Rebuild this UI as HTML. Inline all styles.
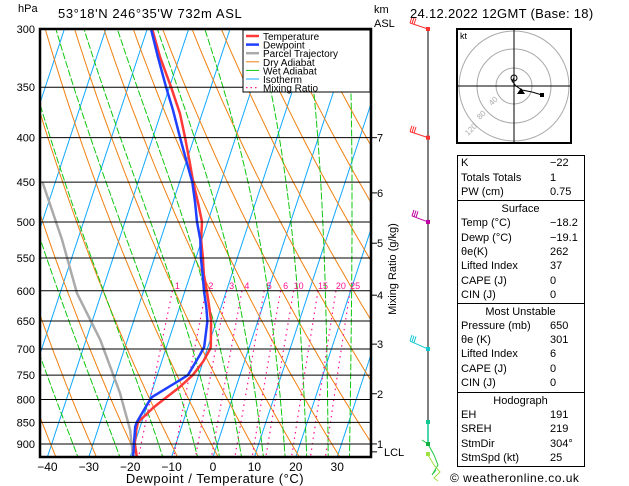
<!DOCTYPE html>
<html><head><meta charset="utf-8"><style>
body{margin:0;background:#fff;}
svg{display:block;font-family:"Liberation Sans",sans-serif;}
</style></head><body>
<svg id="c" width="629" height="486" viewBox="0 0 629 486" xmlns="http://www.w3.org/2000/svg">
<defs><clipPath id="clip"><rect x="40" y="29" width="331" height="428"/></clipPath></defs>
<g id="bg" clip-path="url(#clip)"></g>
<g id="iso"></g>
<g id="prof" clip-path="url(#clip)"></g>
<g id="axes"></g>
</svg>
<script>
// ---- data ----
const tempP = [300,323,350,375,400,428,450,475,500,524,550,574,602,626,650,696,700,724,750,774,801,818,850,867,898,932];
const tempT = [-48.8,-44.7,-39.6,-35.4,-32.2,-29.0,-26.7,-23.9,-21.4,-20.2,-18.3,-16.8,-14.6,-12.9,-11.3,-9.3,-9.3,-10.0,-11.4,-13.6,-16.6,-18.4,-20.9,-20.7,-20.0,-18.4];
const dewP = [300,323,350,372,400,428,450,475,500,524,550,574,602,626,650,696,711,750,760,795,808,850,860,898,932];
const dewT = [-49.1,-45.2,-40.8,-37.3,-33.4,-29.7,-26.9,-24.6,-22.6,-20.4,-18.8,-17.1,-15.3,-13.6,-12.2,-10.9,-11.3,-12.6,-14.1,-19.5,-20.0,-21.2,-21.2,-20.2,-19.3];
const parcelP = [450,524,604,683,786,867,932];
const parcelT = [-63.1,-53.8,-45.9,-36.6,-27.6,-22.2,-19.3];
const pressureTicks = [300,350,400,450,500,550,600,650,700,750,800,850,900];
const tempTicks = [-40,-30,-20,-10,0,10,20,30];
const kmLabels = ["7","6","5","4","3","2","1","LCL"];
const kmP = [400,463,529,607,691,788,900,919];
const mixVals = [1,2,3,4,6,8,10,15,20,25];
const mixLabels = ["1","2","3","4","5","6","10","15","20","25"];

const NS="http://www.w3.org/2000/svg";
function yP(p){return 29+377.7*Math.log(p/300);}
function xT(T,p){return 213+4.14*T+0.33*(457-yP(p));}
function mk(tag,attrs,parent){const e=document.createElementNS(NS,tag);for(const k in attrs)e.setAttribute(k,attrs[k]);parent.appendChild(e);return e;}
function path(pts){return pts.map((q,i)=>(i?'L':'M')+q[0].toFixed(1)+' '+q[1].toFixed(1)).join(' ');}
const bg=document.getElementById('bg'),prof=document.getElementById('prof'),axes=document.getElementById('axes');

// isotherms
for(let T=-130;T<=50;T+=10){
  const l=mk('line',{x1:xT(T,935),y1:yP(935),x2:xT(T,300),y2:yP(300),stroke:'#10a8ff','stroke-width':1},bg);
  
  
}
// dry adiabats
for(let th=200;th<=480;th+=10){
  const pts=[];for(let p=300;p<=940;p+=10)pts.push([xT(th*Math.pow(p/1000,0.2857)-273.15,p),yP(p)]);
  const e=mk('path',{d:path(pts),fill:'none',stroke:'#f08010','stroke-width':1},bg);
  
  
}
// wet adiabats
function es(Tc){return 6.112*Math.exp(17.67*Tc/(Tc+243.5));}
[-28,-18,-8,0,5,10,15,20,25,30,35,40].forEach(tw=>{
  let T=tw+273.15,p=1000;const pts=[];
  while(p>=300){
    if(p<=940)pts.push([xT(T-273.15,p),yP(p)]);
    const e=es(T-273.15),rs=0.622*e/(p-e),Lv=2.5e6,Rd=287,Cp=1004;
    const dTdp=(1/p)*(Rd*T+Lv*rs)/(Cp+Lv*Lv*rs*0.622/(Rd*T*T));
    T-=dTdp*5;p-=5;
  }
  const el=mk('path',{d:path(pts),fill:'none',stroke:'#10c810','stroke-width':1,'stroke-dasharray':'7,2'},bg);
  
  
});
// mixing ratio
function tdW(w,p){const e=w*p/(622+w),l=Math.log(e/6.112);return 243.5*l/(17.67-l);}
mixVals.forEach((w,i)=>{
  const pts=[];for(let p=600;p<=940;p+=10)pts.push([xT(tdW(w,p),p),yP(p)]);
  const el=mk('path',{d:path(pts),fill:'none',stroke:'#ff1090','stroke-width':1.2,'stroke-dasharray':'1.5,4'},bg);
  
  
  const t=mk('text',{x:xT(tdW(w,600),600)+5,y:289,'font-size':9,fill:'#ff1090','text-anchor':'middle'},axes);
  t.textContent=mixLabels[i];
  
  
});
// isobars
pressureTicks.forEach(p=>{
  const y=yP(p);
  const l=mk('line',{x1:40,x2:371,y1:y,y2:y,stroke:'#000','stroke-width':1},axes);
  
  
  const t=mk('text',{x:35,y:y+4,'font-size':11,'text-anchor':'end',fill:'#000'},axes);
  t.textContent=p;
  
  
});
// profiles
function line(P,T,color,w,name){
  const pts=P.map((p,i)=>[xT(T[i],p),yP(p)]);
  const e=mk('path',{d:path(pts),fill:'none',stroke:color,'stroke-width':w,'stroke-linejoin':'round'},prof);
  
  
}
line(parcelP,parcelT,'#aaaaaa',2.5,'parcel-trajectory');
line(tempP,tempT,'#ff3838',2.5,'temperature-line');
line(dewP,dewT,'#2040ff',2.5,'dewpoint-line');

// frame
const fr=mk('rect',{x:40,y:29,width:331,height:428,fill:'none',stroke:'#000','stroke-width':2.5},axes);


tempTicks.forEach(T=>{
  const x=213+4.14*T;
  const t=mk('text',{x:x,y:471,'font-size':12,'text-anchor':'middle',fill:'#000'},axes);
  t.textContent=T<0?'\u2212'+(-T):T;
  
  
});
kmLabels.forEach((k,i)=>{
  const y=yP(kmP[i]);
  mk('line',{x1:371,x2:377,y1:y,y2:y,stroke:'#000','stroke-width':1},axes);
  const t=mk('text',{x:i==7?384:377,y:y+4,'font-size':11,fill:'#000'},axes);
  t.textContent=k;
  
  
});

// legend
const leg=mk('g',{},axes);


mk('rect',{x:243,y:30,width:127,height:62,fill:'#fff',stroke:'#000','stroke-width':1},leg);
[['Temperature','#ff3838',2.5,''],['Dewpoint','#2040ff',2.5,''],['Parcel Trajectory','#aaaaaa',2.5,''],['Dry Adiabat','#f08010',1,''],['Wet Adiabat','#10c810',1,''],['Isotherm','#10a8ff',1,''],['Mixing Ratio','#ff1090',1.2,'1.5,3']].forEach((r,i)=>{
  const y=36+i*8.6;
  mk('line',{x1:246,x2:259,y1:y,y2:y,stroke:r[1],'stroke-width':r[2],'stroke-dasharray':r[3]||'none'},leg);
  const t=mk('text',{x:263,y:y+4,'font-size':10,fill:'#000'},leg);
  t.textContent=r[0];
  
  
});

// wind barbs column
mk('line',{x1:428,x2:428,y1:29,y2:445,stroke:'#000','stroke-width':1},axes);
const barbs=[[300,'#ff3030',-18,-6],[400,'#ff3030',-18,-6],[500,'#c000a0',-16,-6],[700,'#10c8d0',-18,-8]];
barbs.forEach(b=>{
  const y=yP(b[0]);
  const g=mk('g',{},axes);
  
  
  mk('line',{x1:428,y1:y,x2:428+b[2],y2:y+b[3],stroke:b[1],'stroke-width':1},g);
  for(let k=0;k<3;k++)mk('line',{x1:428+b[2]+k*2,y1:y+b[3]+k*0.7,x2:428+b[2]+k*2+2,y2:y+b[3]+k*0.7-6,stroke:b[1],'stroke-width':1},g);
  mk('rect',{x:426,y:y-2,width:4,height:4,fill:b[1]},g);
});
mk('line',{x1:428,y1:422,x2:428,y2:444,stroke:'#10c890','stroke-width':1.5},axes);
mk('polyline',{points:'422,440 428,444 434,455 438,465 432,475 436,470',fill:'none',stroke:'#20c840','stroke-width':1},axes);
mk('polyline',{points:'428,455 434,465 440,472 434,478 438,481',fill:'none',stroke:'#a0e040','stroke-width':1},axes);
mk('rect',{x:426,y:420,width:4,height:4,fill:'#10c890'},axes);
mk('rect',{x:426,y:442,width:4,height:4,fill:'#10b040'},axes);
mk('rect',{x:426,y:452,width:4,height:4,fill:'#a0e040'},axes);
</script>
<svg width="0" height="0"></svg>
<div style="position:absolute;left:0;top:0;width:629px;height:486px;pointer-events:none;font-family:'Liberation Sans',sans-serif;color:#000;">
  <div style="position:absolute;left:18px;top:3px;font-size:11px;">hPa</div>
  <div style="position:absolute;left:58px;top:6px;font-size:13px;letter-spacing:0.6px;">53°18'N  246°35'W  732m  ASL</div>
  <div style="position:absolute;left:374px;top:3px;font-size:11px;line-height:14px;">km<br>ASL</div>
  <div style="position:absolute;left:410px;top:6px;font-size:13px;letter-spacing:0.3px;">24.12.2022  12GMT  (Base: 18)</div>
  <div style="position:absolute;left:333px;top:263px;width:120px;text-align:center;font-size:11px;transform:rotate(-90deg);">Mixing Ratio (g/kg)</div>
  <div style="position:absolute;left:100px;top:471px;width:230px;text-align:center;font-size:13px;letter-spacing:0.5px;">Dewpoint / Temperature (°C)</div>
  <div style="position:absolute;left:450px;top:471px;font-size:12px;letter-spacing:0.5px;">© weatheronline.co.uk</div>
</div>
<svg style="position:absolute;left:456px;top:28px;" width="116" height="116">
  <rect x="1" y="1" width="114" height="114" fill="#fff" stroke="#000" stroke-width="2"/>
  <circle cx="58" cy="58" r="18" fill="none" stroke="#aaa"/>
  <circle cx="58" cy="58" r="37" fill="none" stroke="#aaa"/>
  <circle cx="58" cy="58" r="55" fill="none" stroke="#aaa"/>
  <line x1="2" y1="58" x2="114" y2="58" stroke="#000"/>
  <line x1="58" y1="2" x2="58" y2="114" stroke="#000"/>
  <text x="4" y="11" font-size="9" font-family="Liberation Sans">kt</text>
  <text x="36" y="78" font-size="8" fill="#aaa" transform="rotate(-45 36 78)">40</text>
  <text x="24" y="92" font-size="8" fill="#aaa" transform="rotate(-45 24 92)">80</text>
  <text x="12" y="108" font-size="8" fill="#aaa" transform="rotate(-45 12 108)">120</text>
  <polyline points="58,50 56,53 60,58 66,62 76,64 86,67" fill="none" stroke="#000"/>
  <circle cx="58" cy="50" r="3" fill="none" stroke="#000"/>
  <polygon points="65,60 61,66 69,66" fill="#000"/>
  <rect x="84" y="65" width="4" height="4" fill="#000"/>
</svg>
<div style="position:absolute;left:457px;top:155px;width:126px;height:310px;border:1px solid #000;font-family:'Liberation Sans',sans-serif;font-size:11px;">
  <div style="position:absolute;left:0;top:44px;width:126px;border-top:1px solid #000;"></div>
  <div style="position:absolute;left:0;top:147px;width:126px;border-top:1px solid #000;"></div>
  <div style="position:absolute;left:0;top:236px;width:126px;border-top:1px solid #000;"></div>
</div>
<div id="rows" style="position:absolute;left:0;top:0;font-family:'Liberation Sans',sans-serif;font-size:11px;"></div>
<script>
const rowsData=[["K","−22",164],["Totals Totals","1",179],["PW (cm)","0.75",193],["#Surface","",210],["Temp (°C)","−18.2",224],["Dewp (°C)","−19.1",239],["θe(K)","262",253],["Lifted Index","37",267],["CAPE (J)","0",282],["CIN (J)","0",296],["#Most Unstable","",313],["Pressure (mb)","650",327],["θe (K)","301",341],["Lifted Index","6",355],["CAPE (J)","0",370],["CIN (J)","0",384],["#Hodograph","",402],["EH","191",416],["SREH","219",430],["StmDir","304°",445],["StmSpd (kt)","25",459]];
const R=document.getElementById('rows');
rowsData.forEach(r=>{
  const d=document.createElement('div');
  
  
  d.style.position='absolute';d.style.top=(r[2]-7)+'px';d.style.whiteSpace='nowrap';
  if(r[0][0]=='#'){d.style.left='457px';d.style.width='127px';d.style.textAlign='center';d.textContent=r[0].slice(1);}
  else{d.style.left='461px';d.textContent=r[0];
    const v=document.createElement('span');v.style.position='absolute';v.style.left='89px';v.textContent=r[1];d.appendChild(v);}
  R.appendChild(d);
});
</script>
</body></html>
